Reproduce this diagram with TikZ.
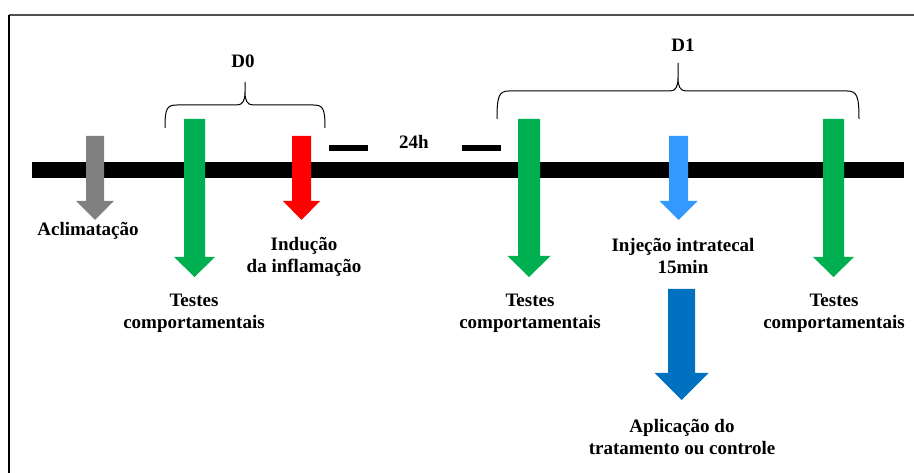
\documentclass[tikz,border=0pt]{standalone}
\usepackage{fontspec}
\setmainfont{Liberation Serif}
\definecolor{cgray}{HTML}{808080}
\definecolor{cgreen}{HTML}{00B050}
\definecolor{cred}{HTML}{FF0000}
\definecolor{clblue}{HTML}{3399FF}
\definecolor{cdblue}{HTML}{0070C0}
\definecolor{cframe}{HTML}{505050}
\tikzset{
  lbl/.style={font=\bfseries\fontsize{19}{22}\selectfont, inner sep=0pt, align=center},
  bracepath/.style={draw=black, line width=1pt},
  pics/darr/.style args={#1/#2/#3/#4/#5}{code={
    \fill[#5] (-#1,0) -- (#1,0) -- (#1,#3) -- (#2,#3) -- (0,#4) -- (-#2,#3) -- (-#1,#3) -- cycle;
  }}
}
\begin{document}
\begin{tikzpicture}[x=1pt,y=-1pt]
\useasboundingbox (0,0) rectangle (914,473);
% frame
\draw[cframe, line width=1.3pt] (9,15) -- (914,15);
\draw[black, line width=1.3pt] (9,15) -- (9,473);
% timeline
\fill[black] (32,162) rectangle (904,178);
% dashes
\fill[black] (329,145) rectangle (368,151);
\fill[black] (462,145) rectangle (501,151);
% arrows
\pic at (95,136) {darr={9/19/65/84/cgray}};
\pic at (194.5,119) {darr={10.5/20.5/138/158/cgreen}};
\pic at (301.5,136) {darr={9.5/18.5/65/84/cred}};
\pic at (529,119) {darr={11/21.5/137/158/cgreen}};
\pic at (678.5,136) {darr={9.5/19/65/84/clblue}};
\pic at (833.5,119) {darr={10.5/20.5/138/158/cgreen}};
\pic at (681.5,289) {darr={13.5/27/84/111/cdblue}};
% braces
\draw[bracepath] (165,128) .. controls (165,108) and (167,105) .. (177,105) -- (237,105)
  .. controls (243,105) and (245,100) .. (245,92) -- (245,82)
  (245,92) .. controls (245,100) and (247,105) .. (253,105) -- (313,105)
  .. controls (323,105) and (325,108) .. (325,128);
\draw[bracepath] (497,119) .. controls (497,96) and (499,91) .. (509,91) -- (670,91)
  .. controls (676,91) and (678,86) .. (678,78) -- (678,63)
  (678,78) .. controls (678,86) and (680,91) .. (686,91) -- (847,91)
  .. controls (857,91) and (859,96) .. (859,119);
% labels
\node[lbl, anchor=base] (d0) at (243,68) {D0};
\node[lbl, anchor=base] (d1) at (683,52) {D1};
\node[lbl, anchor=base] (h24) at (414,149) {24h};
\node[lbl, anchor=north] (acl) at (88,222) {Aclimatação};
\node[lbl, anchor=north] (ind) at (304,237) {Indução\\da inflamação};
\node[lbl, anchor=north] (tc1) at (194,294) {Testes\\comportamentais};
\node[lbl, anchor=north] (tc2) at (530,294) {Testes\\comportamentais};
\node[lbl, anchor=north] (inj) at (683,238) {Injeção intratecal\\15min};
\node[lbl, anchor=north] (tc3) at (834,294) {Testes\\comportamentais};
\node[lbl, anchor=north] (apl) at (682,419) {Aplicação do\\tratamento ou controle};
\end{tikzpicture}
\end{document}
